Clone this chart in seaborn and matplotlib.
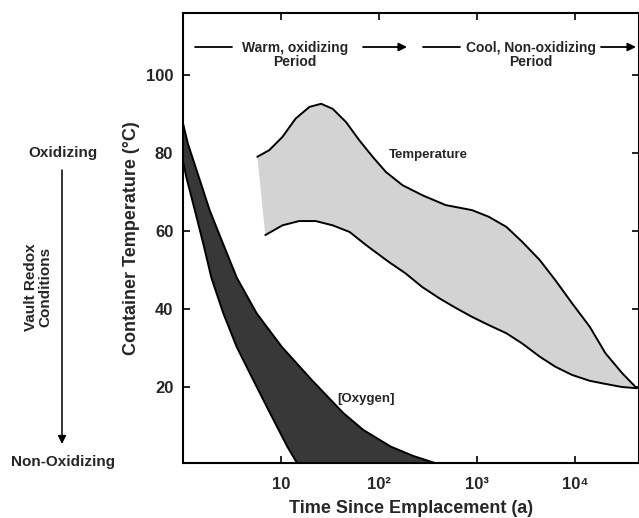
import numpy as np
import pandas as pd
import matplotlib
matplotlib.use("Agg")
import matplotlib.pyplot as plt
import seaborn as sns

# ---------------- data ----------------
# Temperature envelope: upper bound (time in years, temperature in degC)
temp_upper_t = [5.73, 7.59, 10.35, 14.1, 19.5, 25.7, 33.7, 46.1, 63.1, 86.1,
                117.5, 173.8, 278.6, 478.6, 891, 1318, 1995, 2884, 4365,
                6310, 9333, 14125, 20417, 30200, 42658]
temp_upper_T = [79.1, 80.8, 84.2, 88.9, 91.9, 92.7, 91.4, 88.0, 83.3, 79.1,
                75.2, 71.8, 69.2, 66.7, 65.4, 63.7, 61.1, 57.3, 52.6, 47.4,
                41.5, 35.5, 28.7, 23.6, 19.7]
# Temperature envelope: lower bound
temp_lower_t = [6.92, 10.35, 15.3, 22.6, 33.7, 50.1, 74.1, 126, 186, 275, 417,
                617, 891, 1318, 1995, 2884, 4365, 6310, 9333, 14125, 20417,
                30200, 42658]
temp_lower_T = [59.0, 61.5, 62.6, 62.6, 61.5, 59.8, 56.4, 52.1, 49.2, 45.7,
                42.7, 40.2, 38.0, 35.9, 33.8, 31.2, 27.8, 25.2, 23.1, 21.6,
                20.8, 20.0, 19.7]
# Oxygen band: outer (right) bound, drawn in the temperature-axis units
oxy_outer_t = [1.0, 1.12, 1.45, 1.87, 2.56, 3.55, 5.65, 10.2, 20.6, 43.3, 69,
               132, 224, 372, 447]
oxy_outer_v = [87.7, 82.5, 73.9, 65.4, 56.8, 48.0, 38.9, 30.3, 21.8, 13.3,
               9.0, 4.7, 2.3, 0.5, 0.0]
# Oxygen band: inner (left) bound
oxy_inner_t = [1.0, 1.08, 1.32, 1.61, 1.95, 2.58, 3.53, 5.21, 7.73, 11.6,
               14.5, 15.5]
oxy_inner_v = [78.0, 73.9, 65.4, 56.8, 48.0, 38.9, 30.3, 21.8, 13.3, 4.7,
               0.6, 0.0]

x_ticks = [10, 100, 1000, 10000]
x_tick_labels = ["10", "10²", "10³", "10⁴"]
y_ticks = [20, 40, 60, 80, 100]

# ---------------- figure ----------------
sns.set_theme(style="white")
plt.rcParams["font.family"] = ["Liberation Sans", "DejaVu Sans"]
plt.rcParams["font.weight"] = "bold"

W, H = 639, 518
fig = plt.figure(figsize=(W / 100, H / 100), dpi=100)
ax = fig.add_axes([183 / W, 1 - 463 / H, (639 - 183) / W, (463 - 13) / H])


def fx(px):
    return px / W


def fy(py):
    return 1 - py / H


# Temperature band
poly_x = temp_upper_t + temp_lower_t[::-1]
poly_y = temp_upper_T + temp_lower_T[::-1]
ax.fill(poly_x, poly_y, color="#d3d3d3", lw=0, zorder=1)
# Oxygen band
poly_x = oxy_outer_t + oxy_inner_t[::-1]
poly_y = oxy_outer_v + oxy_inner_v[::-1]
ax.fill(poly_x, poly_y, color="#383838", lw=0, zorder=1)

df_lines = pd.concat([
    pd.DataFrame({"t": temp_upper_t, "v": temp_upper_T, "curve": "tu"}),
    pd.DataFrame({"t": temp_lower_t, "v": temp_lower_T, "curve": "tl"}),
    pd.DataFrame({"t": oxy_outer_t, "v": oxy_outer_v, "curve": "oo"}),
    pd.DataFrame({"t": oxy_inner_t, "v": oxy_inner_v, "curve": "oi"}),
])
sns.lineplot(data=df_lines, x="t", y="v", units="curve", estimator=None,
             sort=False, color="black", lw=1.4, ax=ax, zorder=3,
             solid_joinstyle="round", solid_capstyle="round")

ax.set_xscale("log")
ax.set_xlim(1, 10 ** ((639 - 183) / 98))
ax.set_ylim(0.5, 116)
ax.set_xticks(x_ticks)
ax.set_xticklabels(x_tick_labels, fontsize=12, fontweight="bold")
ax.xaxis.set_minor_locator(matplotlib.ticker.NullLocator())
ax.set_yticks(y_ticks)
ax.set_yticklabels([str(v) for v in y_ticks], fontsize=12, fontweight="bold")
ax.tick_params(axis="both", direction="in", length=5, width=1.2,
               top=True, right=True, bottom=True, left=True, color="black")
ax.tick_params(axis="x", pad=10)
ax.tick_params(axis="y", pad=7)
for s in ax.spines.values():
    s.set_color("black")
    s.set_linewidth(1.5)

ax.set_xlabel("Time Since Emplacement (a)", fontsize=13, fontweight="bold",
              labelpad=6)
ax.set_ylabel("Container Temperature (°C)", fontsize=13, fontweight="bold",
              labelpad=4)

# Period annotations
fig.text(fx(295), fy(55), "Warm, oxidizing\nPeriod", ha="center", va="center",
         fontsize=10, fontweight="bold", linespacing=1.0)
fig.text(fx(531), fy(55), "Cool, Non-oxidizing\nPeriod", ha="center",
         va="center", fontsize=10, fontweight="bold", linespacing=1.0)
for x0, x1, head in [(195, 232, False), (363, 407, True),
                     (423, 460, False), (601, 636, True)]:
    ax.annotate("", xy=(fx(x1), fy(47)), xytext=(fx(x0), fy(47)),
                xycoords="figure fraction", textcoords="figure fraction",
                arrowprops=dict(arrowstyle="-|>" if head else "-",
                                color="black", lw=1.3,
                                mutation_scale=12, shrinkA=0, shrinkB=0))

ax.text(fx(428), fy(155), "Temperature", transform=fig.transFigure,
        ha="center", va="center", fontsize=9.5, fontweight="bold")
ax.text(fx(366), fy(399), "[Oxygen]", transform=fig.transFigure,
        ha="center", va="center", fontsize=9.5, fontweight="bold")

# Left redox annotation
fig.text(fx(63), fy(153), "Oxidizing", ha="center", va="center",
         fontsize=11, fontweight="bold")
fig.text(fx(63), fy(462), "Non-Oxidizing", ha="center", va="center",
         fontsize=11, fontweight="bold")
fig.text(fx(38), fy(287), "Vault Redox\nConditions", ha="center",
         va="center", rotation=90, fontsize=11, fontweight="bold",
         linespacing=1.0)
ax.annotate("", xy=(fx(62), fy(444)), xytext=(fx(62), fy(170)),
            xycoords="figure fraction", textcoords="figure fraction",
            arrowprops=dict(arrowstyle="-|>", color="black", lw=1.1,
                            mutation_scale=12, shrinkA=0, shrinkB=0))

fig.savefig("out.png", dpi=100)
